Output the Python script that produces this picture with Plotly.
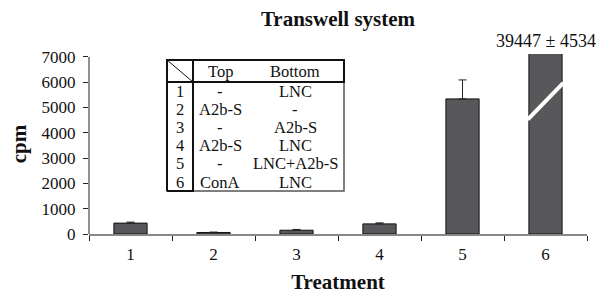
import plotly.graph_objects as go

# ---- data ----
treatments = ["1", "2", "3", "4", "5", "6"]
cpm_mean = [430, 60, 150, 400, 5340, 39447]
cpm_err = [40, 15, 30, 40, 750, 4534]
big_label = "39447 ± 4534"
break_low, break_high = 4520, 5970   # white "axis break" mark on bar 6

table_header = ["Top", "Bottom"]
table_nums = ["1", "2", "3", "4", "5", "6"]
table_top = ["-", "A2b-S", "-", "A2b-S", "-", "ConA"]
table_bottom = ["LNC", "-", "A2b-S", "LNC", "LNC+A2b-S", "LNC"]

# ---- layout constants ----
W, H = 606, 294
ML, MR, MT, MB = 89, 19, 54, 60
PW, PH = W - ML - MR, H - MT - MB
SERIF = "Liberation Serif"

def px(x):
    return (x - ML) / PW

def py(y):
    return (H - MB - y) / PH

fig = go.Figure()
fig.add_trace(go.Bar(
    x=treatments, y=cpm_mean, width=0.4,
    marker=dict(color="#58585a", line=dict(color="#111111", width=1)),
    error_y=dict(type="data", array=cpm_err, arrayminus=[0] * len(cpm_err),
                 symmetric=False, color="#222222", thickness=1, width=4),
    showlegend=False,
))

shapes = []
# y axis line (0..7000)
shapes.append(dict(type="line", xref="paper", yref="y", x0=0, x1=0, y0=0, y1=7000,
                   line=dict(color="#222222", width=1)))
# break mark on bar 6
i6 = len(treatments) - 1
shapes.append(dict(type="line", xref="x", yref="y", x0=i6 - 0.215, x1=i6 + 0.215,
                   y0=break_low, y1=break_high, line=dict(color="white", width=4)))

# table geometry (pixels)
tl, tr, tt, tb = 167, 344, 60, 191
hdr_b, col1 = 82, 193
shapes += [
    dict(type="rect", xref="paper", yref="paper", x0=px(tl), x1=px(tr), y0=py(tb), y1=py(tt),
         line=dict(color="#555555", width=1.5), fillcolor="white", layer="above"),
    dict(type="rect", xref="paper", yref="paper", x0=px(tl), x1=px(tr), y0=py(hdr_b), y1=py(tt),
         line=dict(color="#111111", width=2), layer="above"),
    dict(type="line", xref="paper", yref="paper", x0=px(tl), x1=px(tl), y0=py(tb), y1=py(tt),
         line=dict(color="#111111", width=2), layer="above"),
    dict(type="line", xref="paper", yref="paper", x0=px(col1), x1=px(col1), y0=py(tb), y1=py(tt),
         line=dict(color="#111111", width=2), layer="above"),
    dict(type="line", xref="paper", yref="paper", x0=px(tl), x1=px(col1 + 1), y0=py(tb), y1=py(tb),
         line=dict(color="#111111", width=2), layer="above"),
    dict(type="line", xref="paper", yref="paper", x0=px(tl), x1=px(col1), y0=py(tt), y1=py(hdr_b),
         line=dict(color="#111111", width=1), layer="above"),
]

annotations = []
tfont = dict(family=SERIF, size=16.5, color="#111111")
cx_num, cx_top, cx_bot = 180, 220, 295
annotations.append(dict(text=table_header[0], x=px(cx_top), y=py(71), xref="paper", yref="paper",
                        showarrow=False, font=tfont, xanchor="center", yanchor="middle"))
annotations.append(dict(text=table_header[1], x=px(cx_bot), y=py(71), xref="paper", yref="paper",
                        showarrow=False, font=tfont, xanchor="center", yanchor="middle"))
row_y0, row_dy = 91, 18.2
for k in range(len(table_nums)):
    yy = py(row_y0 + k * row_dy)
    for cx, txt in ((cx_num, table_nums[k]), (cx_top, table_top[k]), (cx_bot, table_bottom[k])):
        annotations.append(dict(text=txt, x=px(cx), y=yy, xref="paper", yref="paper",
                                showarrow=False, font=tfont, xanchor="center", yanchor="middle"))

annotations.append(dict(text=big_label, x=i6, y=py(41), xref="x", yref="paper",
                        showarrow=False, font=dict(family=SERIF, size=18, color="#111111"),
                        xanchor="center", yanchor="middle"))

fig.update_layout(
    width=W, height=H,
    margin=dict(l=ML, r=MR, t=MT, b=MB, autoexpand=False),
    paper_bgcolor="white", plot_bgcolor="white",
    title=dict(text="<b>Transwell system</b>", x=0.5, xref="paper", y=1 - 19 / H, yref="container",
               xanchor="center", yanchor="middle",
               font=dict(family=SERIF, size=21, color="#111111")),
    font=dict(family=SERIF, size=17, color="#111111"),
    xaxis=dict(type="category", range=[-0.5, len(treatments) - 0.5], autorange=False,
               showgrid=False, zeroline=False, showline=True,
               linecolor="#888888", linewidth=1.5, ticks="outside", tickson="boundaries",
               ticklen=5, tickcolor="#222222", tickwidth=1, ticklabelstandoff=4,
               tickfont=dict(family=SERIF, size=17, color="#111111"),
               title=dict(text="<b>Treatment</b>", standoff=11,
                          font=dict(family=SERIF, size=21, color="#111111"))),
    yaxis=dict(range=[0, 7115], showgrid=False, zeroline=False, showline=False,
               tickvals=[0, 1000, 2000, 3000, 4000, 5000, 6000, 7000],
               ticks="outside", ticklen=5, tickcolor="#222222", tickwidth=1, ticklabelstandoff=4,
               tickfont=dict(family=SERIF, size=17, color="#111111"),
               title=dict(text="<b>cpm</b>", standoff=9,
                          font=dict(family=SERIF, size=21, color="#111111"))),
    shapes=shapes, annotations=annotations,
    bargap=0.6,
)

fig.write_html("out.html", config={"displayModeBar": False},
               post_script="document.body.style.margin='0px';document.body.style.overflow='hidden';")
